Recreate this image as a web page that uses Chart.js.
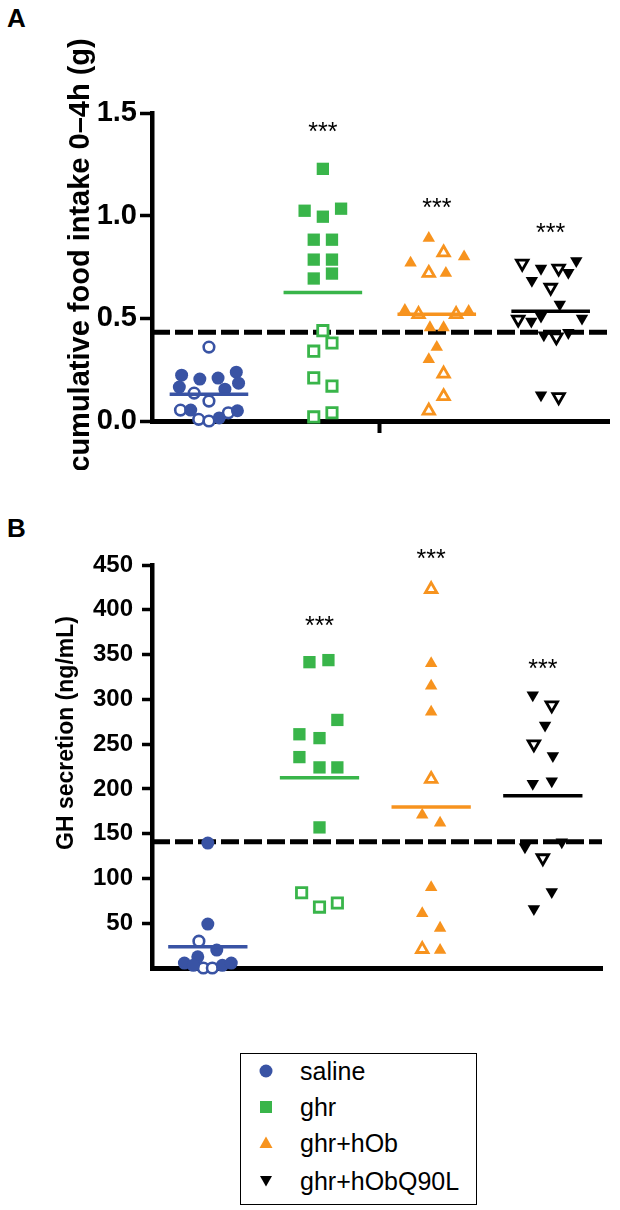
<!DOCTYPE html>
<html><head><meta charset="utf-8">
<script src="https://cdn.jsdelivr.net/npm/chart.js@4.4.0/dist/chart.umd.min.js"></script>
<style>
html,body{margin:0;padding:0;background:#fff;}
body{width:620px;height:1210px;position:relative;overflow:hidden;font-family:"Liberation Sans",Arial,sans-serif;color:#000;}
.wrap{position:absolute;left:0;width:620px;}
#wa{top:0;height:470px;}
#wb{top:500px;height:520px;}
.panel{position:absolute;left:7px;font-weight:bold;font-size:26px;line-height:26px;}
#legend{position:absolute;left:240px;top:1053px;width:237px;height:152px;border:1.5px solid #000;box-sizing:border-box;}
.lg{position:absolute;left:0;width:237px;height:30px;}
.lg svg{position:absolute;left:17px;top:7px;}
.lg span{position:absolute;left:59px;top:0;font-size:25px;line-height:30px;white-space:nowrap;}
</style></head><body>
<div class="panel" style="top:5px">A</div>
<div class="panel" style="top:515px">B</div>
<div class="wrap" id="wa"><canvas id="ca"></canvas></div>
<div class="wrap" id="wb"><canvas id="cb"></canvas></div>
<div id="legend"></div>
<script>
// ---------- DATA ----------
const groupNames = ['saline', 'ghr', 'ghr+hOb', 'ghr+hObQ90L'];
const groupPos = [1, 2, 3, 4];

// Panel A: cumulative food intake 0–4h (g). Pairs are [spread within group, value]
const intakeSalineFilled = [[-0.24,0.223],[-0.08,0.204],[0.08,0.209],[0.24,0.238],[-0.26,0.165],[0.14,0.155],[0.26,0.184],[-0.16,0.053],[0.09,0.015],[0.25,0.05]];
const intakeSalineOpen   = [[0,0.36],[-0.13,0.136],[0,0.097],[-0.25,0.053],[-0.09,0.008],[0,0.0],[0.17,0.04]];
const intakeGhrFilled    = [[0,1.228],[-0.16,1.024],[0,0.995],[0.16,1.034],[-0.08,0.883],[0.08,0.883],[-0.08,0.786],[0.08,0.786],[-0.08,0.694],[0.08,0.718]];
const intakeGhrOpen      = [[0,0.44],[-0.08,0.34],[0.08,0.38],[-0.08,0.21],[0.08,0.17],[-0.08,0.02],[0.08,0.04]];
const intakeHObFilled    = [[-0.07,0.89],[0.24,0.80],[-0.23,0.77],[0.08,0.72],[-0.28,0.54],[0.28,0.535],[-0.06,0.455],[0.06,0.455],[0,0.36],[-0.07,0.30]];
const intakeHObOpen      = [[0.06,0.82],[-0.07,0.72],[-0.16,0.52],[0.17,0.52],[0.06,0.23],[0.06,0.12],[-0.07,0.05]];
const intakeQ90LFilled   = [[-0.085,0.743],[0.225,0.78],[0.155,0.723],[-0.165,0.684],[0.08,0.568],[-0.17,0.485],[-0.085,0.51],[0.275,0.50],[-0.06,0.418],[0.155,0.43],[-0.085,0.126]];
const intakeQ90LOpen     = [[-0.25,0.767],[0.07,0.743],[0,0.65],[-0.285,0.495],[0.05,0.408],[0.07,0.117]];
const intakeMeans        = [0.13, 0.626, 0.52, 0.534];
const intakeThreshold    = 0.432;
const intakeStars        = [null, 1.43, 1.06, 0.94];
const intakeTicks        = [0, 0.5, 1.0, 1.5];

// Panel B: GH secretion (ng/mL)
const ghSalineFilled = [[0,139.5],[0,49],[0.08,20],[-0.09,12.5],[-0.21,5.5],[-0.13,3],[0.13,3],[0.21,5.5]];
const ghSalineOpen   = [[-0.08,30],[-0.04,0],[0.04,0]];
const ghGhrFilled    = [[-0.09,341.5],[0.08,343.8],[0.16,277],[-0.18,261],[0,256.7],[-0.18,235.5],[0,224],[0.16,224],[0,157]];
const ghGhrOpen      = [[-0.16,84],[0,68],[0.16,72.6]];
const ghHObFilled    = [[0,340],[0,315],[0,286],[-0.08,171],[0.08,162],[0,90],[-0.08,61],[0.08,44.6],[0.08,20]];
const ghHObOpen      = [[0,423],[0,211],[-0.08,21]];
const ghQ90LFilled   = [[-0.09,304.7],[0.02,271],[0.09,237],[-0.09,206],[0.08,208.7],[-0.16,135],[0.17,140.6],[0.08,85],[-0.08,66]];
const ghQ90LOpen     = [[0.08,293.5],[-0.08,250],[0,122.8]];
const ghMeans        = [23.8, 212.4, 179.7, 192.3];
const ghThreshold    = 141;
const ghStars        = [null, 388, 462, 339];
const ghTicks        = [50, 100, 150, 200, 250, 300, 350, 400, 450];

// ---------- STYLE ----------
const FONT = '"Liberation Sans", Arial, sans-serif';
const colors = ['#3953a4', '#39b54a', '#f7931e', '#000000'];
const shapes = ['circle', 'rect', 'triangle', 'triangle'];
const rotations = [0, 0, 0, 180];
const filledRadius = {circle: 6.5, rect: 8.7, triangle: 7.2};
const openRadius = {circle: 5.3, rect: 7.3, triangle: 6.6};
const openBorder = {circle: 2.6, rect: 2.8, triangle: 2.8};

const starsPlugin = {
  id: 'stars',
  afterDatasetsDraw(chart, args, o) {
    const {ctx} = chart, xs = chart.scales.x, ys = chart.scales.y;
    ctx.save();
    ctx.font = o.font; ctx.fillStyle = '#000'; ctx.textAlign = 'center'; ctx.textBaseline = 'alphabetic';
    o.values.forEach((v, i) => {
      if (v == null) return;
      ctx.fillText('***', xs.getPixelForValue(groupPos[i]), ys.getPixelForValue(v) + o.shift);
    });
    ctx.restore();
  }
};
const yTitlePlugin = {
  id: 'yTitle',
  afterDraw(chart, args, o) {
    const c = chart.ctx;
    c.save(); c.translate(o.x, o.y); c.rotate(-Math.PI / 2);
    c.font = o.font; c.fillStyle = '#000'; c.textAlign = 'center'; c.textBaseline = 'alphabetic';
    c.fillText(o.text, 0, 0); c.restore();
  }
};

function pts(g, arr) { return arr.map(p => ({x: groupPos[g] + p[0], y: p[1]})); }

function buildDatasets(filled, open, means, thr, xMin, xMax, halfW) {
  const ds = [];
  means.forEach((m, g) => ds.push({
    label: groupNames[g] + ' mean', data: [{x: groupPos[g] - halfW, y: m}, {x: groupPos[g] + halfW, y: m}],
    showLine: true, borderColor: colors[g], borderWidth: 3.5, pointRadius: 0, order: 0, clip: false
  }));
  filled.forEach((arr, g) => ds.push({
    label: groupNames[g], data: pts(g, arr), pointStyle: shapes[g], rotation: rotations[g],
    pointRadius: filledRadius[shapes[g]], backgroundColor: colors[g], borderColor: colors[g], borderWidth: 0,
    order: 1, clip: false
  }));
  open.forEach((arr, g) => ds.push({
    label: groupNames[g] + ' (open)', data: pts(g, arr), pointStyle: shapes[g], rotation: rotations[g],
    pointRadius: openRadius[shapes[g]], backgroundColor: '#ffffff', borderColor: colors[g], borderWidth: openBorder[shapes[g]],
    order: 1, clip: false
  }));
  ds.push({label: 'threshold', data: [{x: xMin, y: thr}, {x: xMax, y: thr}], showLine: true,
    borderColor: '#000', borderWidth: 5, borderDash: [18, 5], pointRadius: 0, order: 2, clip: false});
  return ds;
}

function makeOptions(c) {
  return {
    responsive: true, maintainAspectRatio: false, animation: false, devicePixelRatio: 1, events: [],
    layout: {padding: {top: c.padTop, right: c.padRight, left: 0, bottom: 0}},
    plugins: {
      legend: {display: false}, tooltip: {enabled: false},
      stars: {values: c.stars, font: '25px ' + FONT, shift: 13},
      yTitle: c.title
    },
    scales: {
      x: {
        type: 'linear', min: c.xMin, max: c.xMax,
        afterFit: s => { s.height = c.xHeight; },
        afterBuildTicks: s => { s.ticks = c.xTicks.map(v => ({value: v})); },
        ticks: {callback: () => '', font: {size: 1}},
        grid: {display: true, drawOnChartArea: false, drawTicks: true, tickLength: 12, tickWidth: 4, tickColor: '#000', color: '#000'},
        border: {display: true, color: '#000', width: 5}
      },
      y: {
        type: 'linear', min: c.yMin, max: c.yMax,
        afterFit: s => { s.width = 152; },
        afterBuildTicks: s => { s.ticks = c.yTicks.map(v => ({value: v})); },
        ticks: {callback: c.fmt, color: '#000', padding: c.tickPad, font: {family: FONT, size: c.tickSize, weight: 'bold'}},
        grid: {display: true, drawOnChartArea: false, drawTicks: true, tickLength: c.tickLen, tickWidth: 3.5, tickColor: '#000', color: '#000'},
        border: {display: true, color: '#000', width: 4.5}
      }
    }
  };
}

new Chart(document.getElementById('ca'), {
  type: 'scatter',
  data: {datasets: buildDatasets(
    [intakeSalineFilled, intakeGhrFilled, intakeHObFilled, intakeQ90LFilled],
    [intakeSalineOpen, intakeGhrOpen, intakeHObOpen, intakeQ90LOpen],
    intakeMeans, intakeThreshold, 0.5, 4.52, 0.345)},
  options: makeOptions({
    padTop: 113, padRight: 3, xHeight: 49, xMin: 0.5, xMax: 4.52, xTicks: [2.5],
    yMin: 0, yMax: 1.5, yTicks: intakeTicks, fmt: v => v.toFixed(1), tickSize: 29, tickPad: 3, tickLen: 12,
    stars: intakeStars,
    title: {text: 'cumulative food intake 0–4h (g)', x: 89, y: 255, font: 'bold 29px ' + FONT}
  }),
  plugins: [starsPlugin, yTitlePlugin]
});

new Chart(document.getElementById('cb'), {
  type: 'scatter',
  data: {datasets: buildDatasets(
    [ghSalineFilled, ghGhrFilled, ghHObFilled, ghQ90LFilled],
    [ghSalineOpen, ghGhrOpen, ghHObOpen, ghQ90LOpen],
    ghMeans, ghThreshold, 0.5, 4.53, 0.355)},
  options: makeOptions({
    padTop: 65, padRight: 18, xHeight: 52, xMin: 0.5, xMax: 4.53, xTicks: [],
    yMin: 0, yMax: 450, yTicks: ghTicks, fmt: v => String(v), tickSize: 24, tickPad: 9, tickLen: 10,
    stars: ghStars,
    title: {text: 'GH secretion (ng/mL)', x: 73, y: 233, font: 'bold 23px ' + FONT}
  }),
  plugins: [starsPlugin, yTitlePlugin]
});

// ---------- LEGEND ----------
const legendMarkers = [
  c => `<circle cx="8" cy="8" r="6.5" fill="${c}"/>`,
  c => `<rect x="2" y="2" width="12" height="12" fill="${c}"/>`,
  c => `<polygon points="8,1.5 14.5,13 1.5,13" fill="${c}"/>`,
  c => `<polygon points="2,3 14,3 8,13.5" fill="${c}"/>`
];
const legendRowTops = [2, 38, 74, 112];
const lg = document.getElementById('legend');
groupNames.forEach((n, i) => {
  const d = document.createElement('div');
  d.className = 'lg'; d.style.top = legendRowTops[i] + 'px';
  d.innerHTML = `<svg width="16" height="16" viewBox="0 0 16 16">${legendMarkers[i](colors[i])}</svg><span>${n}</span>`;
  lg.appendChild(d);
});
</script>
</body></html>
